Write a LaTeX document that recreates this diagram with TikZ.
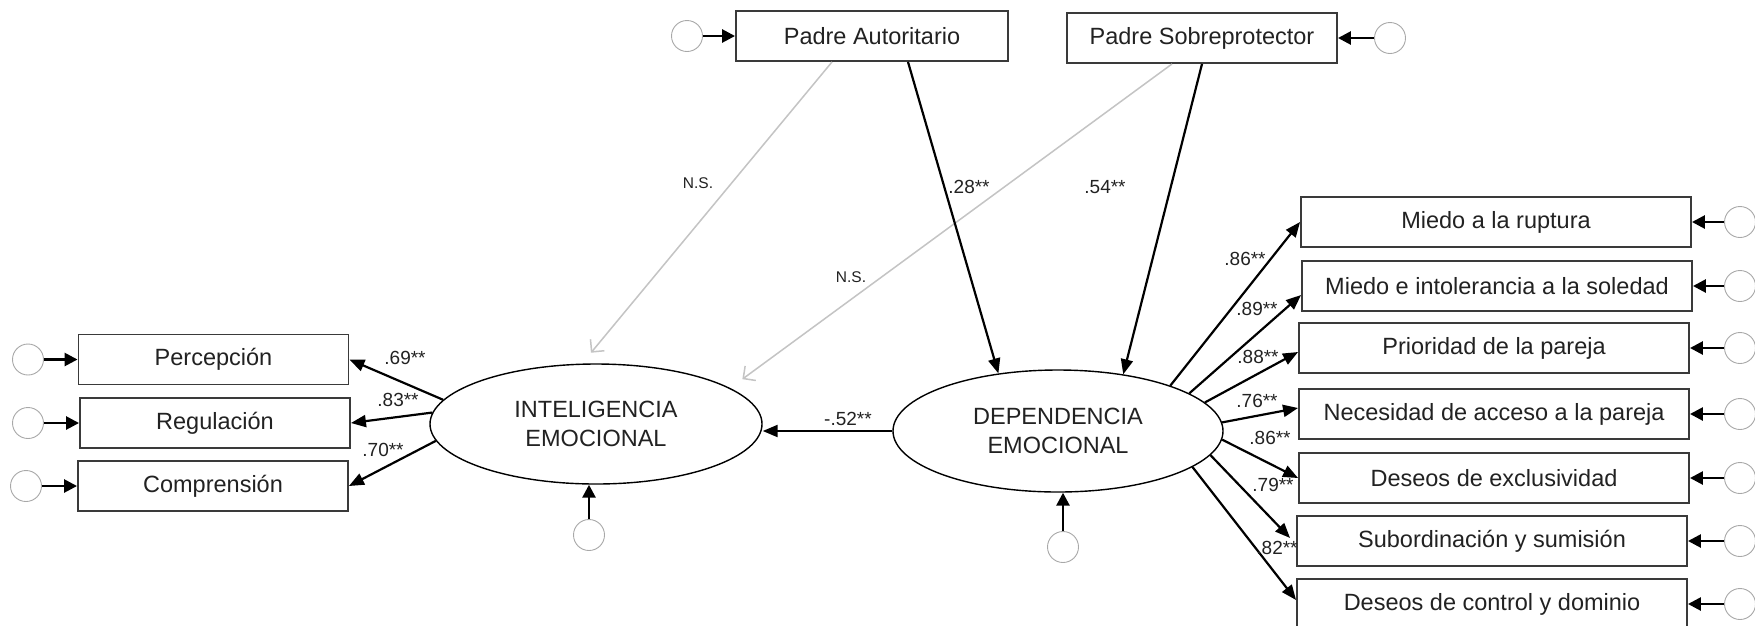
\documentclass[tikz,border=0pt]{standalone}
\usepackage{fontspec}
\setmainfont{Liberation Sans}
\usetikzlibrary{arrows.meta,shapes.geometric}
\definecolor{boxc}{HTML}{3A3A3A}
\definecolor{txt}{HTML}{222222}
\definecolor{circc}{HTML}{A8A8A8}
\definecolor{greyc}{HTML}{C4C4C4}
\tikzset{
  obs/.style={draw=boxc, line width=1.9pt, minimum height=50pt, inner sep=0pt,
    font=\fontsize{23.5}{28}\selectfont, text=txt},
  lat/.style={ellipse, draw=black, line width=1.4pt, inner sep=0pt, align=center,
    font=\fontsize{23.5}{29}\selectfont, text=txt},
  errc/.style={circle, draw=circc, line width=0.9pt, minimum size=31pt, inner sep=0pt},
  blk/.style={draw=black, line width=2.2pt, -{Triangle[length=15pt,width=12pt]}},
  erra/.style={draw=black, line width=2.7pt, -{Triangle[length=13pt,width=13pt]}},
  nsarr/.style={draw=greyc, line width=1.5pt, -{Straight Barb[length=9pt,width=18pt]}},
  lbl/.style={font=\fontsize{19}{19}\selectfont, text=txt, inner sep=0pt},
  nslbl/.style={font=\fontsize{15.5}{16}\selectfont, text=txt, inner sep=0pt}
}
\begin{document}
\begin{tikzpicture}[x=1pt,y=-1pt]
\useasboundingbox (0,0) rectangle (1755,625);
\fill[white] (0,0) rectangle (1755,625);
\clip (0,0) rectangle (1755,625);

% latent variables
\node[lat, minimum width=332pt, minimum height=120pt] (ie) at (596,424) {INTELIGENCIA\\EMOCIONAL};
\node[lat, minimum width=330pt, minimum height=122pt] (dep) at (1058,431) {DEPENDENCIA\\EMOCIONAL};

% top observed
\node[obs, minimum width=272pt] (auto) at (872,36) {Padre Autoritario};
\node[obs, minimum width=270pt] (sobre) at (1202,38) {Padre Sobreprotector};
\node[errc] (eauto) at (687,36) {};
\node[errc] (esobre) at (1390,38) {};
\draw[erra] (eauto) -- (auto);
\draw[erra] (esobre) -- (sobre);

% left indicators
\node[obs, minimum width=270pt] (perc) at (213.5,359.5) {Percepción};
\node[obs, minimum width=270pt] (regu) at (215,423) {Regulación};
\node[obs, minimum width=270pt] (comp) at (213,486) {Comprensión};
\node[errc] (eperc) at (28,359.5) {};
\node[errc] (eregu) at (28,423) {};
\node[errc] (ecomp) at (26,486) {};
\draw[erra] (eperc) -- (perc);
\draw[erra] (eregu) -- (regu);
\draw[erra] (ecomp) -- (comp);

% right indicators
\node[obs, minimum width=390pt] (b1) at (1496,222) {Miedo a la ruptura};
\node[obs, minimum width=390pt] (b2) at (1497,286) {Miedo e intolerancia a la soledad};
\node[obs, minimum width=390pt] (b3) at (1494,348) {Prioridad de la pareja};
\node[obs, minimum width=390pt] (b4) at (1494,414) {Necesidad de acceso a la pareja};
\node[obs, minimum width=390pt] (b5) at (1494,478) {Deseos de exclusividad};
\node[obs, minimum width=390pt] (b6) at (1492,541) {Subordinación y sumisión};
\node[obs, minimum width=390pt] (b7) at (1492,604) {Deseos de control y dominio};
\foreach \b/\y in {b1/222,b2/286,b3/348,b4/414,b5/478,b6/541,b7/604}{
  \node[errc] (e\b) at (1740,\y) {};
  \draw[erra] (e\b) -- (\b);
}

% error terms of latent variables
\node[errc] (eie) at (589,535) {};
\node[errc] (edep) at (1063,547) {};
\draw[erra] (eie) -- (eie |- ie.south);
\draw[erra] (edep) -- (edep |- dep.south);

% structural paths
\draw[nsarr, shorten >=14pt] ([xshift=-40pt]auto.south) -- (ie.103);
\draw[nsarr, shorten >=15pt] ([xshift=-30pt]sobre.south) -- (ie.15);
\draw[blk] ([xshift=36pt]auto.south) -- (dep.136);
\draw[blk] (sobre.south) -- (dep.41);
\draw[blk] (dep.west) -- (ie.east |- dep.west);

% loadings IE
\draw[blk] (ie.171) -- (perc.east);
\draw[blk] (ie.176) -- (regu.east);
\draw[blk] (ie.186) -- (comp.east);

% loadings DEP
\draw[blk] (dep.22) -- (b1.west);
\draw[blk] (dep.16.6) -- ([yshift=-9pt]b2.west);
\draw[blk] (dep.11.7) -- ([yshift=-4pt]b3.west);
\draw[blk] (dep.3.5) -- ([yshift=6pt]b4.west);
\draw[blk] (dep.-3.8) -- (b5.west);
\draw[blk] (dep.-9.4) -- ([xshift=-6pt,yshift=3pt]b6.west);
\draw[blk] (dep.-15) -- ([yshift=4pt]b7.west);

% labels
\node[nslbl] (ns1) at (698,183) {N.S.};
\node[nslbl] (ns2) at (851,277) {N.S.};
\node[lbl] (l28) at (969,187) {.28**};
\node[lbl] (l54) at (1105,187) {.54**};
\node[lbl] (l52) at (848,419) {-.52**};
\node[lbl] (l69) at (405,358) {.69**};
\node[lbl] (l83) at (398,400) {.83**};
\node[lbl] (l70) at (383,450) {.70**};
\node[lbl] (r1) at (1245,259) {.86**};
\node[lbl] (r2) at (1257,309) {.89**};
\node[lbl] (r3) at (1258,357) {.88**};
\node[lbl] (r4) at (1257,401) {.76**};
\node[lbl] (r5) at (1270,438) {.86**};
\node[lbl] (r6) at (1273,485) {.79**};
\node[lbl] (r7) at (1277,548) {.82**};
\end{tikzpicture}
\end{document}
